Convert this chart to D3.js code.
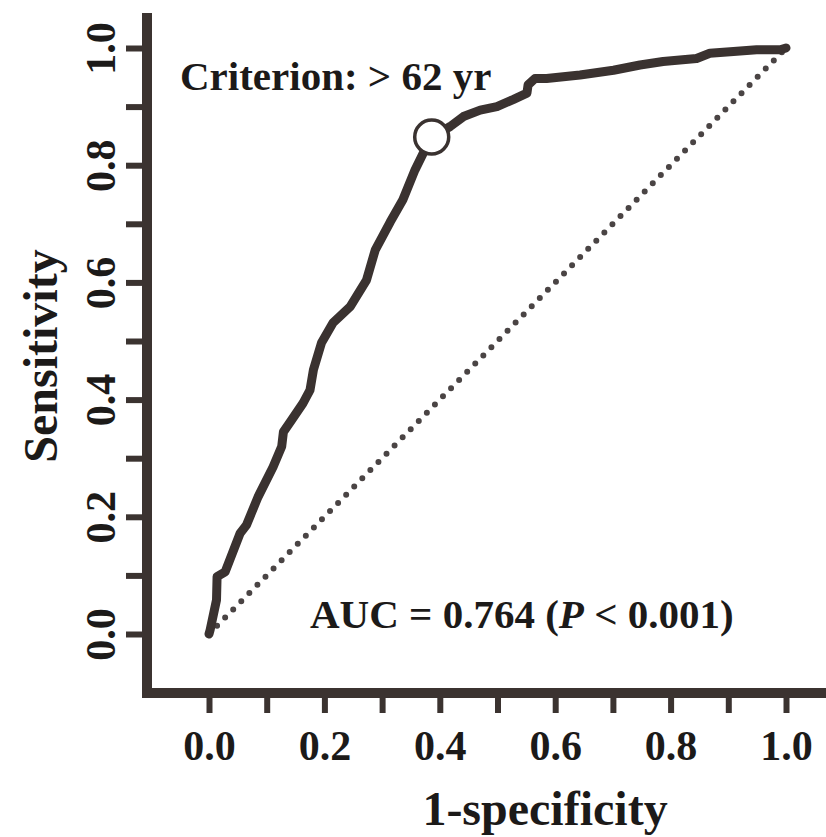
<!DOCTYPE html>
<html>
<head>
<meta charset="utf-8">
<script src="https://cdn.jsdelivr.net/npm/d3@7"></script>
<style>
    body { margin: 0; background: #fff; }
    text { font-family: "Liberation Serif", "Times New Roman", serif; font-weight: bold; fill: #1c1a19; }
</style>
</head>
<body>
<svg id="chart" width="826" height="837"></svg>
<script>
// ROC curve
let fpr = [0.000, 0.002, 0.013, 0.014, 0.028, 0.054, 0.065, 0.085, 0.111, 0.126, 0.129, 0.143,
    0.163, 0.175, 0.181, 0.195, 0.215, 0.245, 0.273, 0.288, 0.314, 0.336, 0.357, 0.374, 0.386,
    0.418, 0.441, 0.470, 0.499, 0.527, 0.551, 0.553, 0.565, 0.585, 0.643, 0.701, 0.747, 0.787,
    0.845, 0.868, 0.909, 0.949, 0.990, 1.000];
let tpr = [0.000, 0.007, 0.058, 0.098, 0.106, 0.172, 0.186, 0.234, 0.285, 0.320, 0.345, 0.365,
    0.394, 0.416, 0.451, 0.497, 0.531, 0.559, 0.604, 0.655, 0.703, 0.741, 0.792, 0.826, 0.848,
    0.866, 0.883, 0.894, 0.900, 0.912, 0.923, 0.937, 0.948, 0.948, 0.954, 0.962, 0.971, 0.977,
    0.982, 0.991, 0.994, 0.997, 0.997, 1.000];

// cut-off point (> 62 yr)
let cutoff = [0.386, 0.848];
let diagonal = [[0, 0], [1, 1]];

let tickValues = [0, 0.1, 0.2, 0.3, 0.4, 0.5, 0.6, 0.7, 0.8, 0.9, 1.0];
let tickLabels = ["0.0", "", "0.2", "", "0.4", "", "0.6", "", "0.8", "", "1.0"];

let criterionText = "Criterion: > 62 yr";
let xTitle = "1-specificity";
let yTitle = "Sensitivity";

let axisColor = "#3b3330";
let curveColor = "#3a3230";

let svg = d3.select("#chart");

let x = d3.scaleLinear().domain([0, 1]).range([209, 786]);
let y = d3.scaleLinear().domain([0, 1]).range([634, 48]);

// axis lines (offset from the plot area)
svg.append("line")
    .attr("x1", 147).attr("y1", 13)
    .attr("x2", 147).attr("y2", 698)
    .attr("stroke", axisColor)
    .attr("stroke-width", 10);
svg.append("line")
    .attr("x1", 142).attr("y1", 693)
    .attr("x2", 826).attr("y2", 693)
    .attr("stroke", axisColor)
    .attr("stroke-width", 10);

// y axis
let yAxis = svg.append("g")
    .attr("transform", "translate(142,0)")
    .call(d3.axisLeft(y)
        .tickValues(tickValues)
        .tickSize(16)
        .tickFormat((d, i) => tickLabels[i]));
yAxis.select(".domain").remove();
yAxis.selectAll(".tick line")
    .attr("stroke", axisColor)
    .attr("stroke-width", 6);
yAxis.selectAll(".tick text")
    .attr("x", null)
    .attr("dy", null)
    .attr("transform", "translate(-27,0) rotate(-90)")
    .attr("text-anchor", "middle")
    .attr("font-size", 42)
    .attr("fill", "#1c1a19");

// x axis
let xAxis = svg.append("g")
    .attr("transform", "translate(0,698)")
    .call(d3.axisBottom(x)
        .tickValues(tickValues)
        .tickSize(15)
        .tickFormat((d, i) => tickLabels[i]));
xAxis.select(".domain").remove();
xAxis.selectAll(".tick line")
    .attr("stroke", axisColor)
    .attr("stroke-width", 6);
xAxis.selectAll(".tick text")
    .attr("y", 62)
    .attr("dy", null)
    .attr("text-anchor", "middle")
    .attr("font-size", 42)
    .attr("fill", "#1c1a19");

// reference diagonal, dotted
svg.append("path")
    .datum(diagonal)
    .attr("d", d3.line().x(d => x(d[0])).y(d => y(d[1])))
    .attr("fill", "none")
    .attr("stroke", "#4a4444")
    .attr("stroke-width", 6)
    .attr("stroke-linecap", "round")
    .attr("stroke-dasharray", "0 11.5");

// ROC curve
let points = fpr.map((f, i) => [f, tpr[i]]);
svg.append("path")
    .datum(points)
    .attr("d", d3.line().x(d => x(d[0])).y(d => y(d[1])))
    .attr("fill", "none")
    .attr("stroke", curveColor)
    .attr("stroke-width", 9)
    .attr("stroke-linejoin", "round")
    .attr("stroke-linecap", "round");

// cut-off marker
svg.append("circle")
    .attr("cx", x(cutoff[0]))
    .attr("cy", y(cutoff[1]))
    .attr("r", 17)
    .attr("fill", "white")
    .attr("stroke", curveColor)
    .attr("stroke-width", 3.5);

// annotations
svg.append("text")
    .attr("x", 180)
    .attr("y", 90)
    .attr("font-size", 41)
    .text(criterionText);

let auc = svg.append("text")
    .attr("x", 310)
    .attr("y", 628)
    .attr("font-size", 41);
auc.append("tspan").text("AUC = 0.764 (");
auc.append("tspan").attr("font-style", "italic").text("P");
auc.append("tspan").text(" < 0.001)");

// axis titles
svg.append("text")
    .attr("x", 545)
    .attr("y", 825)
    .attr("text-anchor", "middle")
    .attr("font-size", 48)
    .text(xTitle);

svg.append("text")
    .attr("transform", "translate(57,356) rotate(-90)")
    .attr("text-anchor", "middle")
    .attr("font-size", 48)
    .text(yTitle);
</script>
</body>
</html>
